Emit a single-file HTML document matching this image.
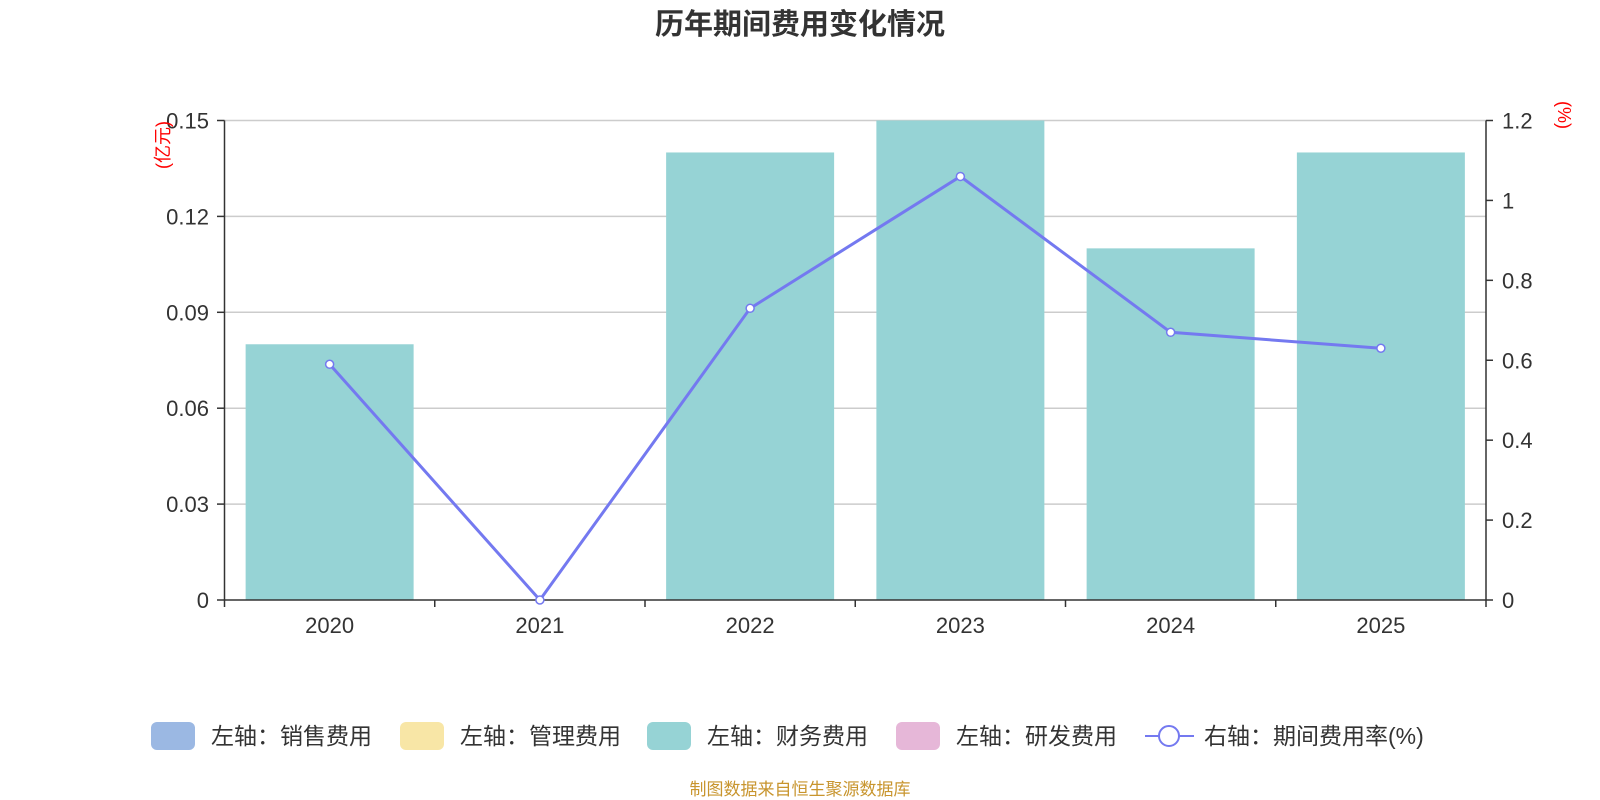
<!DOCTYPE html>
<html><head><meta charset="utf-8"><style>
body{margin:0;background:#fff;width:1600px;height:800px;overflow:hidden}
svg{display:block;font-family:"Liberation Sans","Noto Sans CJK SC",sans-serif}
</style></head><body>
<svg id="c" width="1600" height="800"></svg>
<script>
const categories=["2020","2021","2022","2023","2024","2025"];
const financeCost=[0.08,0,0.14,0.15,0.11,0.14];
const expenseRate=[0.59,0,0.73,1.06,0.67,0.63];
const leftTicks=[0,0.03,0.06,0.09,0.12,0.15];
const leftTickLabels=["0","0.03","0.06","0.09","0.12","0.15"];
const rightTicks=[0,0.2,0.4,0.6,0.8,1,1.2];
const rightTickLabels=["0","0.2","0.4","0.6","0.8","1","1.2"];
const NS="http://www.w3.org/2000/svg";
const svg=document.getElementById('c');
const X0=224.5,X1=1486,Y0=600,Y1=120.5;
const band=(X1-X0)/categories.length;
const yL=v=>Y0-(v/0.15)*(Y0-Y1);
const yR=v=>Y0-(v/1.2)*(Y0-Y1);
const xC=i=>X0+band*(i+0.5);
function el(t,a,txt){const e=document.createElementNS(NS,t);for(const k in a)e.setAttribute(k,a[k]);if(txt!==undefined)e.textContent=txt;svg.appendChild(e);return e;}
let t=el('text',{x:800,y:34,'text-anchor':'middle','font-size':29,'font-weight':'bold',fill:'#333'},'历年期间费用变化情况');


leftTicks.forEach((v,i)=>{
 if(v>0){const g=el('line',{x1:X0,x2:X1,y1:yL(v),y2:yL(v),stroke:'#ccc','stroke-width':1.5});
 
 }
 const l=el('text',{x:209,y:yL(v)+8,'text-anchor':'end','font-size':22,fill:'#333'},leftTickLabels[i]);
 
 
 el('line',{x1:217,x2:X0,y1:yL(v),y2:yL(v),stroke:'#333','stroke-width':1.5});
});
rightTicks.forEach((v,i)=>{
 const l=el('text',{x:1502,y:yR(v)+8,'font-size':22,fill:'#333'},rightTickLabels[i]);
 
 
 el('line',{x1:X1,x2:X1+7,y1:yR(v),y2:yR(v),stroke:'#333','stroke-width':1.5});
});
categories.forEach((c,i)=>{
 const h=Y0-yL(financeCost[i]);
 const b=el('rect',{x:xC(i)-84,y:yL(financeCost[i]),width:168,height:h,fill:'#96d3d5'});
 
 
 const l=el('text',{x:xC(i),y:633,'text-anchor':'middle','font-size':22,fill:'#333'},c);
 
 
});
for(let i=0;i<=categories.length;i++)el('line',{x1:X0+band*i,x2:X0+band*i,y1:Y0,y2:Y0+7,stroke:'#333','stroke-width':1.5});
el('line',{x1:X0,x2:X1,y1:Y0,y2:Y0,stroke:'#333','stroke-width':1.5});
el('line',{x1:X0,x2:X0,y1:Y1,y2:Y0,stroke:'#333','stroke-width':1.5});
el('line',{x1:X1,x2:X1,y1:Y1,y2:Y0,stroke:'#333','stroke-width':1.5});
const pl=el('polyline',{points:expenseRate.map((v,i)=>xC(i)+','+yR(v)).join(' '),fill:'none',stroke:'#7479f0','stroke-width':3});


expenseRate.forEach((v,i)=>{
 const p=el('circle',{cx:xC(i),cy:yR(v),r:4,fill:'#fff',stroke:'#7479f0','stroke-width':1.5});
 
 
});
t=el('text',{x:0,y:0,transform:'translate(169,145) rotate(-90)','text-anchor':'middle','font-size':18,fill:'red'},'(亿元)');


t=el('text',{x:0,y:0,transform:'translate(1558,115) rotate(90)','text-anchor':'middle','font-size':18,fill:'red'},'(%)');


const legends=[["左轴：销售费用","#9bb8e3",151],["左轴：管理费用","#f8e6a6",400],["左轴：财务费用","#96d3d5",647],["左轴：研发费用","#e6b7d8",896]];
legends.forEach(([n,c,x])=>{
 const r=el('rect',{x:x,y:722,width:44,height:28,rx:6,fill:c});
 
 
 const l=el('text',{x:x+60,y:744,'font-size':23,fill:'#333'},n);
 
 
});
el('line',{x1:1145,x2:1194,y1:736,y2:736,stroke:'#7479f0','stroke-width':2});
const lc=el('circle',{cx:1169,cy:736,r:10,fill:'#fff',stroke:'#7479f0','stroke-width':2});


t=el('text',{x:1204,y:744,'font-size':23,fill:'#333'},'右轴：期间费用率(%)');


t=el('text',{x:800,y:795,'text-anchor':'middle','font-size':17,fill:'#c8952e'},'制图数据来自恒生聚源数据库');


</script>
</body></html>
